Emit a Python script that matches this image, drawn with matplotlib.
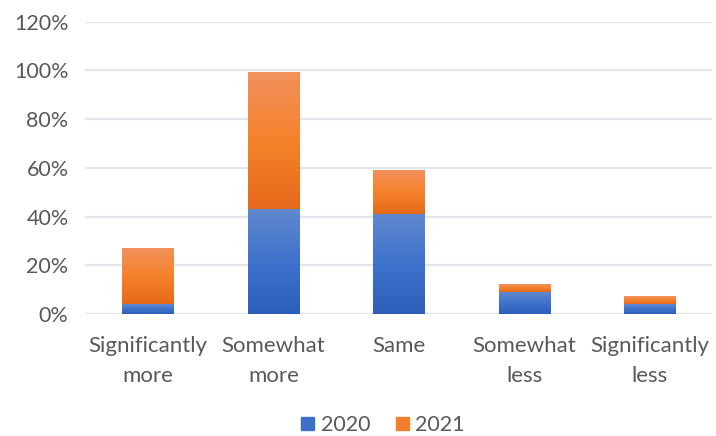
import numpy as np
import matplotlib.pyplot as plt
from matplotlib.colors import LinearSegmentedColormap
from matplotlib.patches import Patch

categories = ["Significantly\nmore", "Somewhat\nmore", "Same", "Somewhat\nless", "Significantly\nless"]
y2020 = [4, 43, 41, 9, 4]
y2021 = [23, 56, 18, 3, 3]

plt.rcParams['font.family'] = ['Lato', 'DejaVu Sans']

blue = LinearSegmentedColormap.from_list("b", ["#2C5FBA", "#3F72CC", "#6088CF"])
orange = LinearSegmentedColormap.from_list("o", ["#E5691A", "#F5822B", "#F1915C"])

fig = plt.figure(figsize=(7.16, 4.36), dpi=100)
ax = fig.add_axes([0.119, 0.28, 0.876, 0.67])

x = np.arange(len(categories))
w = 0.41
grad = np.linspace(0, 1, 256).reshape(-1, 1)

def gbar(xc, bottom, h, cmap):
    # bar with a vertical gradient, dark at the bottom
    ax.imshow(grad, cmap=cmap, aspect='auto', origin='lower',
              extent=(xc - w / 2, xc + w / 2, bottom / 100, (bottom + h) / 100),
              zorder=3, interpolation='bilinear')

for i in x:
    gbar(i, 0, y2020[i], blue)
    gbar(i, y2020[i], y2021[i], orange)

ax.set_xlim(-0.5, len(categories) - 0.5)
ax.set_ylim(0, 1.2)
ax.set_yticks(np.arange(0, 1.21, 0.2))
ax.set_yticklabels([f"{int(round(v * 100))}%" for v in np.arange(0, 1.21, 0.2)])
ax.set_xticks(x)
ax.set_xticklabels(categories, linespacing=1.6)
ax.grid(axis='y', color='#E2E5EA', linewidth=1.6, zorder=0)
for s in ax.spines.values():
    s.set_visible(False)
ax.tick_params(length=0, colors='#595959')
ax.tick_params(axis='x', labelsize=16, pad=16)
ax.tick_params(axis='y', labelsize=15.5, pad=12)

handles = [Patch(color='#3D6FC8', label='2020'), Patch(color='#F0802E', label='2021')]
fig.legend(handles=handles, loc='lower center', bbox_to_anchor=(0.535, -0.042), ncol=2,
           frameon=False, fontsize=15.5, handlelength=0.6, handleheight=0.6,
           handletextpad=0.3, columnspacing=1.2, labelcolor='#595959')

fig.savefig("out.png", dpi=100)
